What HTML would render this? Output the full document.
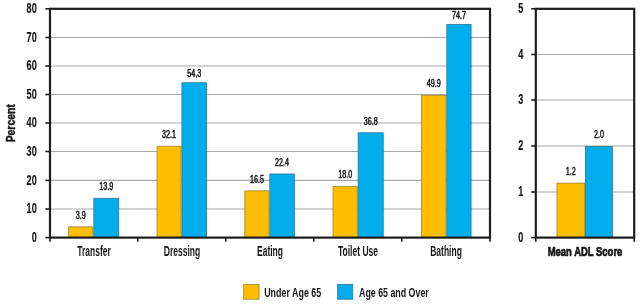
<!DOCTYPE html><html><head><meta charset="utf-8"><style>html,body{margin:0;padding:0;background:#fff;width:640px;height:304px;overflow:hidden}svg{display:block;will-change:transform}</style></head><body>
<svg width="640" height="304" viewBox="0 0 640 304" font-family='"Liberation Sans", sans-serif'>
<rect width="640" height="304" fill="#fff"/>
<line x1="50.0" y1="209.00" x2="490.0" y2="209.00" stroke="#A8A8A8" stroke-width="1.1"/>
<line x1="50.0" y1="180.40" x2="490.0" y2="180.40" stroke="#A8A8A8" stroke-width="1.1"/>
<line x1="50.0" y1="151.50" x2="490.0" y2="151.50" stroke="#A8A8A8" stroke-width="1.1"/>
<line x1="50.0" y1="123.00" x2="490.0" y2="123.00" stroke="#A8A8A8" stroke-width="1.1"/>
<line x1="50.0" y1="94.50" x2="490.0" y2="94.50" stroke="#A8A8A8" stroke-width="1.1"/>
<line x1="50.0" y1="66.00" x2="490.0" y2="66.00" stroke="#A8A8A8" stroke-width="1.1"/>
<line x1="50.0" y1="37.50" x2="490.0" y2="37.50" stroke="#A8A8A8" stroke-width="1.1"/>
<line x1="535.8" y1="192.00" x2="634.2" y2="192.00" stroke="#A8A8A8" stroke-width="1.1"/>
<line x1="535.8" y1="146.00" x2="634.2" y2="146.00" stroke="#A8A8A8" stroke-width="1.1"/>
<line x1="535.8" y1="100.00" x2="634.2" y2="100.00" stroke="#A8A8A8" stroke-width="1.1"/>
<line x1="535.8" y1="54.50" x2="634.2" y2="54.50" stroke="#A8A8A8" stroke-width="1.1"/>
<rect x="68.65" y="226.90" width="24.30" height="10.70" fill="#FEBE00" stroke="#A98B30" stroke-width="0.9"/>
<rect x="93.85" y="198.30" width="24.80" height="39.30" fill="#02ADEE" stroke="#2A7FA0" stroke-width="0.9"/>
<rect x="157.05" y="146.24" width="24.00" height="91.36" fill="#FEBE00" stroke="#A98B30" stroke-width="0.9"/>
<rect x="181.95" y="82.75" width="24.50" height="154.85" fill="#02ADEE" stroke="#2A7FA0" stroke-width="0.9"/>
<rect x="244.85" y="190.86" width="24.10" height="46.74" fill="#FEBE00" stroke="#A98B30" stroke-width="0.9"/>
<rect x="269.85" y="173.99" width="24.50" height="63.61" fill="#02ADEE" stroke="#2A7FA0" stroke-width="0.9"/>
<rect x="333.05" y="186.57" width="24.20" height="51.03" fill="#FEBE00" stroke="#A98B30" stroke-width="0.9"/>
<rect x="358.15" y="132.80" width="25.10" height="104.80" fill="#02ADEE" stroke="#2A7FA0" stroke-width="0.9"/>
<rect x="421.55" y="95.34" width="24.40" height="142.26" fill="#FEBE00" stroke="#A98B30" stroke-width="0.9"/>
<rect x="446.85" y="24.41" width="24.20" height="213.19" fill="#02ADEE" stroke="#2A7FA0" stroke-width="0.9"/>
<rect x="556.95" y="183.14" width="27.70" height="54.46" fill="#FEBE00" stroke="#A98B30" stroke-width="0.9"/>
<rect x="585.55" y="146.53" width="26.80" height="91.07" fill="#02ADEE" stroke="#2A7FA0" stroke-width="0.9"/>
<rect x="50.0" y="8.8" width="440.0" height="228.79999999999998" fill="none" stroke="#1e1e1e" stroke-width="2.2"/>
<rect x="535.8" y="8.8" width="98.40000000000009" height="228.79999999999998" fill="none" stroke="#1e1e1e" stroke-width="2.2"/>
<line x1="45.3" y1="237.60" x2="50.0" y2="237.60" stroke="#1e1e1e" stroke-width="1.6"/>
<line x1="45.3" y1="209.00" x2="50.0" y2="209.00" stroke="#1e1e1e" stroke-width="1.6"/>
<line x1="45.3" y1="180.40" x2="50.0" y2="180.40" stroke="#1e1e1e" stroke-width="1.6"/>
<line x1="45.3" y1="151.50" x2="50.0" y2="151.50" stroke="#1e1e1e" stroke-width="1.6"/>
<line x1="45.3" y1="123.00" x2="50.0" y2="123.00" stroke="#1e1e1e" stroke-width="1.6"/>
<line x1="45.3" y1="94.50" x2="50.0" y2="94.50" stroke="#1e1e1e" stroke-width="1.6"/>
<line x1="45.3" y1="66.00" x2="50.0" y2="66.00" stroke="#1e1e1e" stroke-width="1.6"/>
<line x1="45.3" y1="37.50" x2="50.0" y2="37.50" stroke="#1e1e1e" stroke-width="1.6"/>
<line x1="45.3" y1="8.80" x2="50.0" y2="8.80" stroke="#1e1e1e" stroke-width="1.6"/>
<line x1="531.3" y1="237.60" x2="535.8" y2="237.60" stroke="#1e1e1e" stroke-width="1.6"/>
<line x1="531.3" y1="192.00" x2="535.8" y2="192.00" stroke="#1e1e1e" stroke-width="1.6"/>
<line x1="531.3" y1="146.00" x2="535.8" y2="146.00" stroke="#1e1e1e" stroke-width="1.6"/>
<line x1="531.3" y1="100.00" x2="535.8" y2="100.00" stroke="#1e1e1e" stroke-width="1.6"/>
<line x1="531.3" y1="54.50" x2="535.8" y2="54.50" stroke="#1e1e1e" stroke-width="1.6"/>
<line x1="531.3" y1="8.80" x2="535.8" y2="8.80" stroke="#1e1e1e" stroke-width="1.6"/>
<line x1="50.0" y1="237.6" x2="50.0" y2="241.8" stroke="#1e1e1e" stroke-width="1.6"/>
<line x1="137.8" y1="237.6" x2="137.8" y2="241.8" stroke="#1e1e1e" stroke-width="1.6"/>
<line x1="225.8" y1="237.6" x2="225.8" y2="241.8" stroke="#1e1e1e" stroke-width="1.6"/>
<line x1="313.8" y1="237.6" x2="313.8" y2="241.8" stroke="#1e1e1e" stroke-width="1.6"/>
<line x1="401.8" y1="237.6" x2="401.8" y2="241.8" stroke="#1e1e1e" stroke-width="1.6"/>
<line x1="490.0" y1="237.6" x2="490.0" y2="241.8" stroke="#1e1e1e" stroke-width="1.6"/>
<line x1="535.8" y1="237.6" x2="535.8" y2="241.8" stroke="#1e1e1e" stroke-width="1.6"/>
<line x1="634.2" y1="237.6" x2="634.2" y2="241.8" stroke="#1e1e1e" stroke-width="1.6"/>
<text transform="translate(36.70,241.80) scale(0.655,1)" font-size="13.9" font-weight="bold" text-anchor="end" fill="#161616" stroke="#161616" stroke-width="0.2">0</text>
<text transform="translate(36.70,213.20) scale(0.655,1)" font-size="13.9" font-weight="bold" text-anchor="end" fill="#161616" stroke="#161616" stroke-width="0.2">10</text>
<text transform="translate(36.70,184.60) scale(0.655,1)" font-size="13.9" font-weight="bold" text-anchor="end" fill="#161616" stroke="#161616" stroke-width="0.2">20</text>
<text transform="translate(36.70,155.70) scale(0.655,1)" font-size="13.9" font-weight="bold" text-anchor="end" fill="#161616" stroke="#161616" stroke-width="0.2">30</text>
<text transform="translate(36.70,127.20) scale(0.655,1)" font-size="13.9" font-weight="bold" text-anchor="end" fill="#161616" stroke="#161616" stroke-width="0.2">40</text>
<text transform="translate(36.70,98.70) scale(0.655,1)" font-size="13.9" font-weight="bold" text-anchor="end" fill="#161616" stroke="#161616" stroke-width="0.2">50</text>
<text transform="translate(36.70,70.20) scale(0.655,1)" font-size="13.9" font-weight="bold" text-anchor="end" fill="#161616" stroke="#161616" stroke-width="0.2">60</text>
<text transform="translate(36.70,41.70) scale(0.655,1)" font-size="13.9" font-weight="bold" text-anchor="end" fill="#161616" stroke="#161616" stroke-width="0.2">70</text>
<text transform="translate(36.70,13.00) scale(0.655,1)" font-size="13.9" font-weight="bold" text-anchor="end" fill="#161616" stroke="#161616" stroke-width="0.2">80</text>
<text transform="translate(523.20,241.80) scale(0.655,1)" font-size="13.9" font-weight="bold" text-anchor="end" fill="#161616" stroke="#161616" stroke-width="0.2">0</text>
<text transform="translate(523.20,196.20) scale(0.655,1)" font-size="13.9" font-weight="bold" text-anchor="end" fill="#161616" stroke="#161616" stroke-width="0.2">1</text>
<text transform="translate(523.20,150.20) scale(0.655,1)" font-size="13.9" font-weight="bold" text-anchor="end" fill="#161616" stroke="#161616" stroke-width="0.2">2</text>
<text transform="translate(523.20,104.20) scale(0.655,1)" font-size="13.9" font-weight="bold" text-anchor="end" fill="#161616" stroke="#161616" stroke-width="0.2">3</text>
<text transform="translate(523.20,58.70) scale(0.655,1)" font-size="13.9" font-weight="bold" text-anchor="end" fill="#161616" stroke="#161616" stroke-width="0.2">4</text>
<text transform="translate(523.20,13.00) scale(0.655,1)" font-size="13.9" font-weight="bold" text-anchor="end" fill="#161616" stroke="#161616" stroke-width="0.2">5</text>
<text transform="translate(14.8,123.3) rotate(-90) scale(0.83,1)" font-size="12.5" font-weight="bold" text-anchor="middle" fill="#161616" stroke="#161616" stroke-width="0.45">Percent</text>
<text transform="translate(94.00,255.70) scale(0.595,1)" font-size="14.3" font-weight="bold" text-anchor="middle" fill="#161616" >Transfer</text>
<text transform="translate(182.00,255.70) scale(0.595,1)" font-size="14.3" font-weight="bold" text-anchor="middle" fill="#161616" >Dressing</text>
<text transform="translate(270.00,255.70) scale(0.595,1)" font-size="14.3" font-weight="bold" text-anchor="middle" fill="#161616" >Eating</text>
<text transform="translate(358.00,255.70) scale(0.595,1)" font-size="14.3" font-weight="bold" text-anchor="middle" fill="#161616" >Toilet Use</text>
<text transform="translate(446.00,255.70) scale(0.595,1)" font-size="14.3" font-weight="bold" text-anchor="middle" fill="#161616" >Bathing</text>
<text transform="translate(585.00,255.90) scale(0.74,1)" font-size="12.8" font-weight="bold" text-anchor="middle" fill="#161616" stroke="#161616" stroke-width="0.7">Mean ADL Score</text>
<text transform="translate(80.80,218.65) scale(0.72,1)" font-size="10.0" font-weight="normal" text-anchor="middle" fill="#161616" stroke="#161616" stroke-width="0.5">3.9</text>
<text transform="translate(106.25,190.05) scale(0.72,1)" font-size="10.0" font-weight="normal" text-anchor="middle" fill="#161616" stroke="#161616" stroke-width="0.5">13.9</text>
<text transform="translate(169.05,137.99) scale(0.72,1)" font-size="10.0" font-weight="normal" text-anchor="middle" fill="#161616" stroke="#161616" stroke-width="0.5">32.1</text>
<text transform="translate(194.20,76.80) scale(0.72,1)" font-size="10.0" font-weight="normal" text-anchor="middle" fill="#161616" stroke="#161616" stroke-width="0.5">54.3</text>
<text transform="translate(256.90,182.61) scale(0.72,1)" font-size="10.0" font-weight="normal" text-anchor="middle" fill="#161616" stroke="#161616" stroke-width="0.5">16.5</text>
<text transform="translate(282.10,165.74) scale(0.72,1)" font-size="10.0" font-weight="normal" text-anchor="middle" fill="#161616" stroke="#161616" stroke-width="0.5">22.4</text>
<text transform="translate(345.15,178.32) scale(0.72,1)" font-size="10.0" font-weight="normal" text-anchor="middle" fill="#161616" stroke="#161616" stroke-width="0.5">18.0</text>
<text transform="translate(370.70,124.55) scale(0.72,1)" font-size="10.0" font-weight="normal" text-anchor="middle" fill="#161616" stroke="#161616" stroke-width="0.5">36.8</text>
<text transform="translate(433.75,87.09) scale(0.72,1)" font-size="10.0" font-weight="normal" text-anchor="middle" fill="#161616" stroke="#161616" stroke-width="0.5">49.9</text>
<text transform="translate(458.95,19.40) scale(0.72,1)" font-size="10.0" font-weight="normal" text-anchor="middle" fill="#161616" stroke="#161616" stroke-width="0.5">74.7</text>
<text transform="translate(570.80,174.69) scale(0.72,1)" font-size="10.0" font-weight="normal" text-anchor="middle" fill="#161616" stroke="#161616" stroke-width="0.5">1.2</text>
<text transform="translate(598.90,138.08) scale(0.72,1)" font-size="10.0" font-weight="normal" text-anchor="middle" fill="#161616" stroke="#161616" stroke-width="0.5">2.0</text>
<rect x="243.7" y="284.4" width="15.4" height="14.8" fill="#FEBE00" stroke="#A98B30" stroke-width="0.9"/>
<rect x="337.7" y="284.4" width="15.0" height="14.8" fill="#02ADEE" stroke="#2A7FA0" stroke-width="0.9"/>
<text transform="translate(264.20,296.90) scale(0.665,1)" font-size="13.4" font-weight="bold" text-anchor="start" fill="#161616" >Under Age 65</text>
<text transform="translate(359.00,296.90) scale(0.66,1)" font-size="13.4" font-weight="bold" text-anchor="start" fill="#161616" >Age 65 and Over</text>
</svg></body></html>
